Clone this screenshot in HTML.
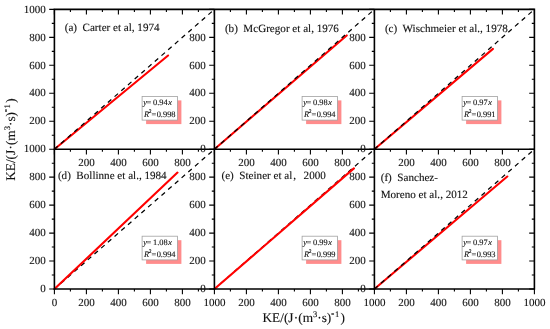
<!DOCTYPE html>
<html><head><meta charset="utf-8"><style>
html,body{margin:0;padding:0;background:#fff;width:550px;height:329px;overflow:hidden}
svg{display:block;will-change:transform}
text{font-family:"Liberation Serif",serif;fill:#111;text-rendering:geometricPrecision;stroke:#111;stroke-width:0.12px}
</style></head><body>
<svg width="550" height="329" viewBox="0 0 550 329">
<rect width="550" height="329" fill="#fff"/>
<line x1="54.40" y1="149.20" x2="168.10" y2="55.50" stroke="#ff0000" stroke-width="2.1" stroke-linecap="round"/>
<line x1="54.40" y1="149.20" x2="214.40" y2="9.40" stroke="#000" stroke-width="1.25" stroke-dasharray="4.6 4.3" stroke-dashoffset="0.2"/>
<line x1="214.40" y1="149.20" x2="346.70" y2="35.45" stroke="#ff0000" stroke-width="2.1" stroke-linecap="round"/>
<line x1="214.40" y1="149.20" x2="374.40" y2="9.40" stroke="#000" stroke-width="1.25" stroke-dasharray="4.6 4.3" stroke-dashoffset="0.2"/>
<line x1="374.40" y1="149.20" x2="492.95" y2="48.85" stroke="#ff0000" stroke-width="2.1" stroke-linecap="round"/>
<line x1="374.40" y1="149.20" x2="534.40" y2="9.40" stroke="#000" stroke-width="1.25" stroke-dasharray="4.6 4.3" stroke-dashoffset="0.2"/>
<line x1="54.40" y1="289.00" x2="214.40" y2="149.20" stroke="#000" stroke-width="1.25" stroke-dasharray="4.6 4.3" stroke-dashoffset="0.2"/>
<line x1="54.40" y1="289.00" x2="177.50" y2="172.60" stroke="#ff0000" stroke-width="2.1" stroke-linecap="round"/>
<line x1="214.40" y1="289.00" x2="374.40" y2="149.20" stroke="#000" stroke-width="1.25" stroke-dasharray="4.6 4.3" stroke-dashoffset="0.2"/>
<line x1="214.40" y1="289.00" x2="353.90" y2="168.40" stroke="#ff0000" stroke-width="2.1" stroke-linecap="round"/>
<line x1="374.40" y1="289.00" x2="507.30" y2="176.50" stroke="#ff0000" stroke-width="2.1" stroke-linecap="round"/>
<line x1="374.40" y1="289.00" x2="534.40" y2="149.20" stroke="#000" stroke-width="1.25" stroke-dasharray="4.6 4.3" stroke-dashoffset="0.2"/>
<path d="M54.40 8.60V289.80M214.40 8.60V289.80M374.40 8.60V289.80M534.40 8.60V289.80M53.60 9.40H535.20M53.60 149.20H535.20M53.60 289.00H535.20" stroke="#000" stroke-width="1.6" fill="none"/>
<path d="M49.20 149.20H54.40M209.20 149.20H214.40M54.40 149.20V154.40M54.40 9.40V14.60M51.80 135.22H54.40M211.80 135.22H214.40M70.40 149.20V151.80M70.40 9.40V12.00M49.20 121.24H54.40M209.20 121.24H214.40M86.40 149.20V154.40M86.40 9.40V14.60M51.80 107.26H54.40M211.80 107.26H214.40M102.40 149.20V151.80M102.40 9.40V12.00M49.20 93.28H54.40M209.20 93.28H214.40M118.40 149.20V154.40M118.40 9.40V14.60M51.80 79.30H54.40M211.80 79.30H214.40M134.40 149.20V151.80M134.40 9.40V12.00M49.20 65.32H54.40M209.20 65.32H214.40M150.40 149.20V154.40M150.40 9.40V14.60M51.80 51.34H54.40M211.80 51.34H214.40M166.40 149.20V151.80M166.40 9.40V12.00M49.20 37.36H54.40M209.20 37.36H214.40M182.40 149.20V154.40M182.40 9.40V14.60M51.80 23.38H54.40M211.80 23.38H214.40M198.40 149.20V151.80M198.40 9.40V12.00M49.20 9.40H54.40M209.20 9.40H214.40M214.40 149.20V154.40M214.40 9.40V14.60M209.20 149.20H214.40M369.20 149.20H374.40M214.40 149.20V154.40M214.40 9.40V14.60M211.80 135.22H214.40M371.80 135.22H374.40M230.40 149.20V151.80M230.40 9.40V12.00M209.20 121.24H214.40M369.20 121.24H374.40M246.40 149.20V154.40M246.40 9.40V14.60M211.80 107.26H214.40M371.80 107.26H374.40M262.40 149.20V151.80M262.40 9.40V12.00M209.20 93.28H214.40M369.20 93.28H374.40M278.40 149.20V154.40M278.40 9.40V14.60M211.80 79.30H214.40M371.80 79.30H374.40M294.40 149.20V151.80M294.40 9.40V12.00M209.20 65.32H214.40M369.20 65.32H374.40M310.40 149.20V154.40M310.40 9.40V14.60M211.80 51.34H214.40M371.80 51.34H374.40M326.40 149.20V151.80M326.40 9.40V12.00M209.20 37.36H214.40M369.20 37.36H374.40M342.40 149.20V154.40M342.40 9.40V14.60M211.80 23.38H214.40M371.80 23.38H374.40M358.40 149.20V151.80M358.40 9.40V12.00M209.20 9.40H214.40M369.20 9.40H374.40M374.40 149.20V154.40M374.40 9.40V14.60M369.20 149.20H374.40M529.20 149.20H534.40M374.40 149.20V154.40M374.40 9.40V14.60M371.80 135.22H374.40M531.80 135.22H534.40M390.40 149.20V151.80M390.40 9.40V12.00M369.20 121.24H374.40M529.20 121.24H534.40M406.40 149.20V154.40M406.40 9.40V14.60M371.80 107.26H374.40M531.80 107.26H534.40M422.40 149.20V151.80M422.40 9.40V12.00M369.20 93.28H374.40M529.20 93.28H534.40M438.40 149.20V154.40M438.40 9.40V14.60M371.80 79.30H374.40M531.80 79.30H534.40M454.40 149.20V151.80M454.40 9.40V12.00M369.20 65.32H374.40M529.20 65.32H534.40M470.40 149.20V154.40M470.40 9.40V14.60M371.80 51.34H374.40M531.80 51.34H534.40M486.40 149.20V151.80M486.40 9.40V12.00M369.20 37.36H374.40M529.20 37.36H534.40M502.40 149.20V154.40M502.40 9.40V14.60M371.80 23.38H374.40M531.80 23.38H534.40M518.40 149.20V151.80M518.40 9.40V12.00M369.20 9.40H374.40M529.20 9.40H534.40M534.40 149.20V154.40M534.40 9.40V14.60M49.20 289.00H54.40M209.20 289.00H214.40M54.40 289.00V294.20M54.40 149.20V154.40M51.80 275.02H54.40M211.80 275.02H214.40M70.40 289.00V291.60M70.40 149.20V151.80M49.20 261.04H54.40M209.20 261.04H214.40M86.40 289.00V294.20M86.40 149.20V154.40M51.80 247.06H54.40M211.80 247.06H214.40M102.40 289.00V291.60M102.40 149.20V151.80M49.20 233.08H54.40M209.20 233.08H214.40M118.40 289.00V294.20M118.40 149.20V154.40M51.80 219.10H54.40M211.80 219.10H214.40M134.40 289.00V291.60M134.40 149.20V151.80M49.20 205.12H54.40M209.20 205.12H214.40M150.40 289.00V294.20M150.40 149.20V154.40M51.80 191.14H54.40M211.80 191.14H214.40M166.40 289.00V291.60M166.40 149.20V151.80M49.20 177.16H54.40M209.20 177.16H214.40M182.40 289.00V294.20M182.40 149.20V154.40M51.80 163.18H54.40M211.80 163.18H214.40M198.40 289.00V291.60M198.40 149.20V151.80M49.20 149.20H54.40M209.20 149.20H214.40M214.40 289.00V294.20M214.40 149.20V154.40M209.20 289.00H214.40M369.20 289.00H374.40M214.40 289.00V294.20M214.40 149.20V154.40M211.80 275.02H214.40M371.80 275.02H374.40M230.40 289.00V291.60M230.40 149.20V151.80M209.20 261.04H214.40M369.20 261.04H374.40M246.40 289.00V294.20M246.40 149.20V154.40M211.80 247.06H214.40M371.80 247.06H374.40M262.40 289.00V291.60M262.40 149.20V151.80M209.20 233.08H214.40M369.20 233.08H374.40M278.40 289.00V294.20M278.40 149.20V154.40M211.80 219.10H214.40M371.80 219.10H374.40M294.40 289.00V291.60M294.40 149.20V151.80M209.20 205.12H214.40M369.20 205.12H374.40M310.40 289.00V294.20M310.40 149.20V154.40M211.80 191.14H214.40M371.80 191.14H374.40M326.40 289.00V291.60M326.40 149.20V151.80M209.20 177.16H214.40M369.20 177.16H374.40M342.40 289.00V294.20M342.40 149.20V154.40M211.80 163.18H214.40M371.80 163.18H374.40M358.40 289.00V291.60M358.40 149.20V151.80M209.20 149.20H214.40M369.20 149.20H374.40M374.40 289.00V294.20M374.40 149.20V154.40M369.20 289.00H374.40M529.20 289.00H534.40M374.40 289.00V294.20M374.40 149.20V154.40M371.80 275.02H374.40M531.80 275.02H534.40M390.40 289.00V291.60M390.40 149.20V151.80M369.20 261.04H374.40M529.20 261.04H534.40M406.40 289.00V294.20M406.40 149.20V154.40M371.80 247.06H374.40M531.80 247.06H534.40M422.40 289.00V291.60M422.40 149.20V151.80M369.20 233.08H374.40M529.20 233.08H534.40M438.40 289.00V294.20M438.40 149.20V154.40M371.80 219.10H374.40M531.80 219.10H534.40M454.40 289.00V291.60M454.40 149.20V151.80M369.20 205.12H374.40M529.20 205.12H534.40M470.40 289.00V294.20M470.40 149.20V154.40M371.80 191.14H374.40M531.80 191.14H534.40M486.40 289.00V291.60M486.40 149.20V151.80M369.20 177.16H374.40M529.20 177.16H534.40M502.40 289.00V294.20M502.40 149.20V154.40M371.80 163.18H374.40M531.80 163.18H534.40M518.40 289.00V291.60M518.40 149.20V151.80M369.20 149.20H374.40M529.20 149.20H534.40M534.40 289.00V294.20M534.40 149.20V154.40" stroke="#000" stroke-width="1.1" fill="none"/>
<g font-size="11"><text x="45.70" y="124.44" text-anchor="end">200</text>
<text x="45.70" y="96.48" text-anchor="end">400</text>
<text x="45.70" y="68.52" text-anchor="end">600</text>
<text x="45.70" y="40.56" text-anchor="end">800</text>
<text x="45.70" y="12.60" text-anchor="end">1000</text>
<text x="86.40" y="165.70" text-anchor="middle">200</text>
<text x="118.40" y="165.70" text-anchor="middle">400</text>
<text x="150.40" y="165.70" text-anchor="middle">600</text>
<text x="182.40" y="165.70" text-anchor="middle">800</text>
<text x="205.70" y="152.40" text-anchor="end">0</text>
<text x="205.70" y="124.44" text-anchor="end">200</text>
<text x="205.70" y="96.48" text-anchor="end">400</text>
<text x="205.70" y="68.52" text-anchor="end">600</text>
<text x="205.70" y="40.56" text-anchor="end">800</text>
<text x="246.40" y="165.70" text-anchor="middle">200</text>
<text x="278.40" y="165.70" text-anchor="middle">400</text>
<text x="310.40" y="165.70" text-anchor="middle">600</text>
<text x="342.40" y="165.70" text-anchor="middle">800</text>
<text x="365.70" y="152.40" text-anchor="end">0</text>
<text x="365.70" y="124.44" text-anchor="end">200</text>
<text x="365.70" y="96.48" text-anchor="end">400</text>
<text x="365.70" y="68.52" text-anchor="end">600</text>
<text x="365.70" y="40.56" text-anchor="end">800</text>
<text x="406.40" y="165.70" text-anchor="middle">200</text>
<text x="438.40" y="165.70" text-anchor="middle">400</text>
<text x="470.40" y="165.70" text-anchor="middle">600</text>
<text x="502.40" y="165.70" text-anchor="middle">800</text>
<text x="45.70" y="292.20" text-anchor="end">0</text>
<text x="45.70" y="264.24" text-anchor="end">200</text>
<text x="45.70" y="236.28" text-anchor="end">400</text>
<text x="45.70" y="208.32" text-anchor="end">600</text>
<text x="45.70" y="180.36" text-anchor="end">800</text>
<text x="45.70" y="152.40" text-anchor="end">1000</text>
<text x="54.40" y="305.50" text-anchor="middle">0</text>
<text x="86.40" y="305.50" text-anchor="middle">200</text>
<text x="118.40" y="305.50" text-anchor="middle">400</text>
<text x="150.40" y="305.50" text-anchor="middle">600</text>
<text x="182.40" y="305.50" text-anchor="middle">800</text>
<text x="214.40" y="305.50" text-anchor="middle">1000</text>
<text x="205.70" y="292.20" text-anchor="end">0</text>
<text x="205.70" y="264.24" text-anchor="end">200</text>
<text x="205.70" y="236.28" text-anchor="end">400</text>
<text x="205.70" y="208.32" text-anchor="end">600</text>
<text x="205.70" y="180.36" text-anchor="end">800</text>
<text x="246.40" y="305.50" text-anchor="middle">200</text>
<text x="278.40" y="305.50" text-anchor="middle">400</text>
<text x="310.40" y="305.50" text-anchor="middle">600</text>
<text x="342.40" y="305.50" text-anchor="middle">800</text>
<text x="374.40" y="305.50" text-anchor="middle">1000</text>
<text x="365.70" y="292.20" text-anchor="end">0</text>
<text x="365.70" y="264.24" text-anchor="end">200</text>
<text x="365.70" y="236.28" text-anchor="end">400</text>
<text x="365.70" y="208.32" text-anchor="end">600</text>
<text x="365.70" y="180.36" text-anchor="end">800</text>
<text x="406.40" y="305.50" text-anchor="middle">200</text>
<text x="438.40" y="305.50" text-anchor="middle">400</text>
<text x="470.40" y="305.50" text-anchor="middle">600</text>
<text x="502.40" y="305.50" text-anchor="middle">800</text>
<text x="534.40" y="305.50" text-anchor="middle">1000</text></g>
<text x="64.70" y="30.60" font-size="11.1">(a)  Carter et al, 1974</text>
<text x="224.90" y="32.20" font-size="11.1">(b)  McGregor et al, 1976</text>
<text x="384.90" y="32.20" font-size="11.1">(c)  Wischmeier et al., 1978</text>
<text x="57.90" y="179.00" font-size="11.1">(d)  Bollinne et al., 1984</text>
<text x="221.50" y="179.20" font-size="11.1">(e)  Steiner et al</text>
<text x="293.20" y="179.20" font-size="11.1">,</text>
<text x="303.60" y="179.20" font-size="11.1">2000</text>
<text x="380.70" y="180.60" font-size="11.1">(f)  Sanchez-</text>
<text x="380.70" y="197.50" font-size="11.1">Moreno et al., 2012</text>
<rect x="146.10" y="100.40" width="35.3" height="23.7" fill="#ff8c8c"/>
<rect x="142.10" y="96.40" width="35.3" height="23.7" fill="#fff" stroke="#a0a0a0" stroke-width="0.8"/>
<text y="105.30" font-size="8.4"><tspan x="143.30" font-style="italic">y</tspan><tspan x="146.40" fill="#555" style="stroke:#555">=</tspan><tspan x="153.00">0.94</tspan><tspan dx="0.5" font-style="italic">x</tspan></text>
<text y="117.00" font-size="8.4"><tspan x="143.95" font-style="italic">R</tspan><tspan x="148.80" y="113.10" font-size="5.5">2</tspan><tspan x="151.60" y="117.00" fill="#555" style="stroke:#555">=</tspan><tspan x="156.68">0.998</tspan></text>
<rect x="306.10" y="100.40" width="35.3" height="23.7" fill="#ff8c8c"/>
<rect x="302.10" y="96.40" width="35.3" height="23.7" fill="#fff" stroke="#a0a0a0" stroke-width="0.8"/>
<text y="105.30" font-size="8.4"><tspan x="303.30" font-style="italic">y</tspan><tspan x="306.40" fill="#555" style="stroke:#555">=</tspan><tspan x="313.00">0.98</tspan><tspan dx="0.5" font-style="italic">x</tspan></text>
<text y="117.00" font-size="8.4"><tspan x="303.95" font-style="italic">R</tspan><tspan x="308.80" y="113.10" font-size="5.5">2</tspan><tspan x="311.60" y="117.00" fill="#555" style="stroke:#555">=</tspan><tspan x="316.68">0.994</tspan></text>
<rect x="466.10" y="100.40" width="35.3" height="23.7" fill="#ff8c8c"/>
<rect x="462.10" y="96.40" width="35.3" height="23.7" fill="#fff" stroke="#a0a0a0" stroke-width="0.8"/>
<text y="105.30" font-size="8.4"><tspan x="463.30" font-style="italic">y</tspan><tspan x="466.40" fill="#555" style="stroke:#555">=</tspan><tspan x="473.00">0.97</tspan><tspan dx="0.5" font-style="italic">x</tspan></text>
<text y="117.00" font-size="8.4"><tspan x="463.95" font-style="italic">R</tspan><tspan x="468.80" y="113.10" font-size="5.5">2</tspan><tspan x="471.60" y="117.00" fill="#555" style="stroke:#555">=</tspan><tspan x="476.68">0.991</tspan></text>
<rect x="146.10" y="240.20" width="35.3" height="23.7" fill="#ff8c8c"/>
<rect x="142.10" y="236.20" width="35.3" height="23.7" fill="#fff" stroke="#a0a0a0" stroke-width="0.8"/>
<text y="245.10" font-size="8.4"><tspan x="143.30" font-style="italic">y</tspan><tspan x="146.40" fill="#555" style="stroke:#555">=</tspan><tspan x="153.00">1.08</tspan><tspan dx="0.5" font-style="italic">x</tspan></text>
<text y="256.80" font-size="8.4"><tspan x="143.95" font-style="italic">R</tspan><tspan x="148.80" y="252.90" font-size="5.5">2</tspan><tspan x="151.60" y="256.80" fill="#555" style="stroke:#555">=</tspan><tspan x="156.68">0.994</tspan></text>
<rect x="306.10" y="240.20" width="35.3" height="23.7" fill="#ff8c8c"/>
<rect x="302.10" y="236.20" width="35.3" height="23.7" fill="#fff" stroke="#a0a0a0" stroke-width="0.8"/>
<text y="245.10" font-size="8.4"><tspan x="303.30" font-style="italic">y</tspan><tspan x="306.40" fill="#555" style="stroke:#555">=</tspan><tspan x="313.00">0.99</tspan><tspan dx="0.5" font-style="italic">x</tspan></text>
<text y="256.80" font-size="8.4"><tspan x="303.95" font-style="italic">R</tspan><tspan x="308.80" y="252.90" font-size="5.5">2</tspan><tspan x="311.60" y="256.80" fill="#555" style="stroke:#555">=</tspan><tspan x="316.68">0.999</tspan></text>
<rect x="466.10" y="240.20" width="35.3" height="23.7" fill="#ff8c8c"/>
<rect x="462.10" y="236.20" width="35.3" height="23.7" fill="#fff" stroke="#a0a0a0" stroke-width="0.8"/>
<text y="245.10" font-size="8.4"><tspan x="463.30" font-style="italic">y</tspan><tspan x="466.40" fill="#555" style="stroke:#555">=</tspan><tspan x="473.00">0.97</tspan><tspan dx="0.5" font-style="italic">x</tspan></text>
<text y="256.80" font-size="8.4"><tspan x="463.95" font-style="italic">R</tspan><tspan x="468.80" y="252.90" font-size="5.5">2</tspan><tspan x="471.60" y="256.80" fill="#555" style="stroke:#555">=</tspan><tspan x="476.68">0.993</tspan></text>
<text x="262.5" y="322.2" font-size="13.3">KE/(J<tspan dx="0.25">·</tspan>(m<tspan font-size="8.5" dy="-5">3</tspan><tspan dy="5">·s)</tspan><tspan font-size="8.5" dy="-6.4" style="stroke-width:0.5px">-</tspan><tspan font-size="8.5" dy="1.4" dx="0.8">1</tspan><tspan dy="5" dx="1.4">)</tspan></text>
<text transform="translate(14.7,180.8) rotate(-90)" x="0" y="0" font-size="13.3">KE/(J<tspan dx="0.25">·</tspan>(m<tspan font-size="8.5" dy="-5">3</tspan><tspan dy="5">·s)</tspan><tspan font-size="8.5" dy="-6.4" style="stroke-width:0.5px">-</tspan><tspan font-size="8.5" dy="1.4" dx="0.8">1</tspan><tspan dy="5" dx="1.4">)</tspan></text>
</svg></body></html>
